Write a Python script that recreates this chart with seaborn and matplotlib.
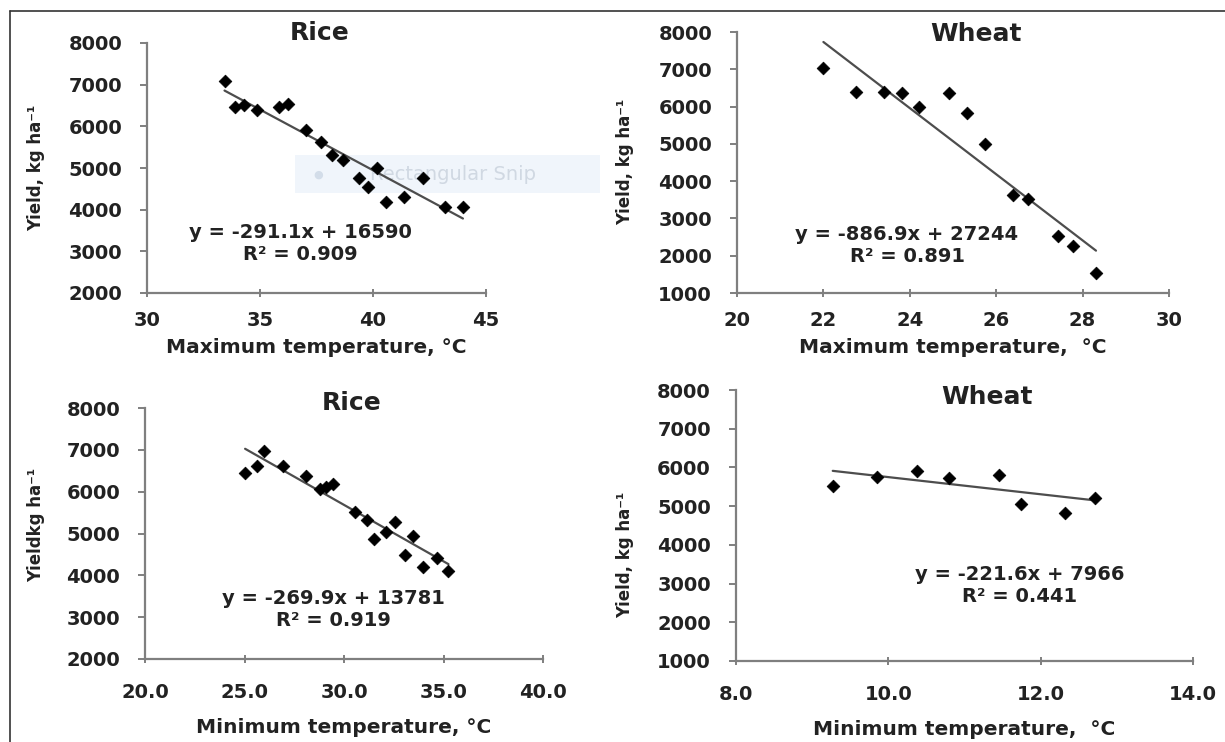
import numpy as np
import pandas as pd
import seaborn as sns
import matplotlib.pyplot as plt
from matplotlib.lines import Line2D
from matplotlib.patches import Rectangle
#---------------------------------------------------------------------------#
# values
rice_tmax = [33.43, 33.88, 34.27, 34.87, 35.82, 36.22, 37.04, 37.70, 38.19,
             38.67, 39.36, 39.76, 40.18, 40.58, 41.35, 42.21, 43.20, 43.98]
rice_tmax_yield = [7077, 6475, 6523, 6402, 6458, 6540, 5913, 5614, 5318,
                   5198, 4771, 4547, 5012, 4186, 4313, 4771, 4072, 4072]

wheat_tmax = [22.00, 22.75, 23.40, 23.81, 24.21, 24.91, 25.33, 25.74, 26.38,
              26.74, 27.42, 27.78, 28.31]
wheat_tmax_yield = [7032, 6387, 6403, 6376, 5984, 6360, 5839, 4989, 3626,
                    3519, 2524, 2255, 1548]

rice_tmin = [25.03, 25.62, 25.98, 26.91, 28.08, 28.77, 29.10, 29.44, 30.56,
             31.15, 31.53, 32.12, 32.57, 33.07, 33.46, 33.96, 34.66, 35.25]
rice_tmin_yield = [6444, 6606, 6969, 6606, 6365, 6068, 6123, 6188, 5502,
                   5326, 4874, 5036, 5285, 4498, 4940, 4198, 4415, 4111]

wheat_tmin = [9.27, 9.85, 10.37, 10.79, 11.45, 11.74, 12.32, 12.71]
wheat_tmin_yield = [5520, 5760, 5907, 5719, 5804, 5055, 4830, 5202]

# fitted trend lines as printed on the chart
slopes = [-291.1, -886.9, -269.9, -221.6]
intercepts = [16590, 27244, 13781, 7966]
r2 = ['0.909', '0.891', '0.919', '0.441']
titles = ['Rice', 'Wheat', 'Rice', 'Wheat']
xlabels = ['Maximum temperature, °C', 'Maximum temperature,  °C',
           'Minimum temperature, °C', 'Minimum temperature,  °C']
ylabels = ['Yield, kg ha⁻¹', 'Yield, kg ha⁻¹', 'Yieldkg ha⁻¹', 'Yield, kg ha⁻¹']
xticks = [[30, 35, 40, 45], [20, 22, 24, 26, 28, 30],
          [20.0, 25.0, 30.0, 35.0, 40.0], [8.0, 10.0, 12.0, 14.0]]
xfmt = ['{:.0f}', '{:.0f}', '{:.1f}', '{:.1f}']
yticks = [list(range(2000, 8001, 1000)), list(range(1000, 8001, 1000)),
          list(range(2000, 8001, 1000)), list(range(1000, 8001, 1000))]

xs = [rice_tmax, wheat_tmax, rice_tmin, wheat_tmin]
ys = [rice_tmax_yield, wheat_tmax_yield, rice_tmin_yield, wheat_tmin_yield]

#---------------------------------------------------------------------------#
W, H = 1225, 742
sns.set_theme(style='white')
plt.rcParams['font.family'] = ['DejaVu Sans']
plt.rcParams['font.weight'] = 'bold'
txt = '#222222'
axc = '#7f7f7f'

fig = plt.figure(figsize=(W / 100, H / 100), dpi=100)
fig.patch.set_facecolor('white')

# axes boxes in pixels: x0, x1, y0(top), y1(bottom)
boxes = [(147, 486, 43, 293), (737, 1169, 32, 293),
         (145, 543, 408, 659), (736, 1193, 390, 661)]
# text positions in pixels
title_pos = [(320, 33), (976, 34), (352, 403), (987, 397)]
eq_pos = [(300, 232), (907, 235), (333, 598), (1020, 575)]
ylab_pos = [(36, 168), (625, 162), (36, 525), (625, 555)]
xtick_pad = [10, 10, 14, 14]
xlab_pad = [6, 6, 12, 12]


def fx(x):
    return x / W


def fy(y):
    return 1 - y / H


# ghost of a screen snip overlay
fig.add_artist(Rectangle((fx(295), fy(193)), fx(305), 38 / H, transform=fig.transFigure,
                         facecolor='#f0f5fb', edgecolor='none', zorder=-1))
fig.text(fx(318), fy(175), '●', color='#d3dde9', fontsize=8, va='center', ha='center', zorder=-1)
fig.text(fx(370), fy(175), 'Rectangular Snip', color='#d0d8e2', fontsize=14,
         fontweight='normal', va='center', ha='left', zorder=-1)

for i in range(4):
    x0, x1, y0, y1 = boxes[i]
    ax = fig.add_axes([fx(x0), fy(y1), (x1 - x0) / W, (y1 - y0) / H])
    ax.set_facecolor('none')
    df = pd.DataFrame({'t': xs[i], 'yld': ys[i]})
    sns.scatterplot(data=df, x='t', y='yld', ax=ax, marker='D', s=42,
                    color='black', edgecolor='black', zorder=3)
    xl = np.array([min(xs[i]), max(xs[i])])
    line = pd.DataFrame({'t': xl, 'yld': slopes[i] * xl + intercepts[i]})
    sns.lineplot(data=line, x='t', y='yld', ax=ax, color='#4d4d4d', lw=1.6, zorder=2)

    ax.set_xlim(xticks[i][0], xticks[i][-1])
    ax.set_ylim(yticks[i][0], yticks[i][-1])
    ax.set_xticks(xticks[i])
    ax.set_xticklabels([xfmt[i].format(v) for v in xticks[i]])
    ax.set_yticks(yticks[i])
    for s in ['top', 'right']:
        ax.spines[s].set_visible(False)
    for s in ['left', 'bottom']:
        ax.spines[s].set_color(axc)
        ax.spines[s].set_linewidth(1.6)
    ax.tick_params(axis='y', direction='out', length=5, width=1.4, color=axc,
                   pad=13, labelsize=14, labelcolor=txt, left=True)
    ax.tick_params(axis='x', direction='inout', length=6, width=1.4, color=axc,
                   pad=xtick_pad[i], labelsize=14, labelcolor=txt, bottom=True)
    for lab in ax.get_xticklabels() + ax.get_yticklabels():
        lab.set_fontweight('bold')
    ax.set_xlabel(xlabels[i], fontsize=14.5, fontweight='bold', color=txt, labelpad=xlab_pad[i])
    ax.set_ylabel('')

    tx, ty = title_pos[i]
    fig.text(fx(tx), fy(ty), titles[i], fontsize=18, fontweight='bold', color=txt,
             ha='center', va='center')
    ex, ey = eq_pos[i]
    fig.text(fx(ex), fy(ey), 'y = {}x + {}'.format(slopes[i], intercepts[i]),
             fontsize=14, fontweight='bold', color=txt, ha='center', va='center')
    fig.text(fx(ex), fy(ey + 22), 'R² = {}'.format(r2[i]),
             fontsize=14, fontweight='bold', color=txt, ha='center', va='center')
    lx, ly = ylab_pos[i]
    fig.text(fx(lx), fy(ly), ylabels[i], fontsize=12, fontweight='bold', color=txt,
             rotation=90, ha='center', va='center')

# outer frame of the screenshot (top and left edges)
fig.add_artist(Line2D([fx(10), 1], [fy(11), fy(11)], transform=fig.transFigure,
                      color='#333333', lw=1.2))
fig.add_artist(Line2D([fx(10), fx(10)], [fy(11), 0], transform=fig.transFigure,
                      color='#333333', lw=1.2))

plt.savefig('out.png', dpi=100)
